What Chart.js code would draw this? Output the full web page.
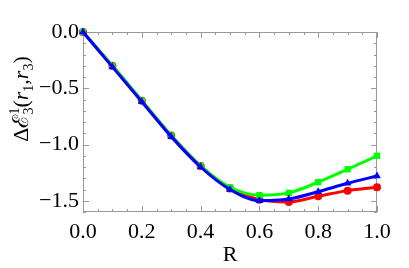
<!DOCTYPE html>
<html>
<head>
<meta charset="utf-8">
<script src="https://cdn.jsdelivr.net/npm/chart.js@4"></script>
<style>
html, body { margin: 0; padding: 0; background: #fff; }
</style>
</head>
<body>
<canvas id="chart" width="409" height="268"></canvas>
<script>
// values
const rValues = [0, 0.1, 0.2, 0.3, 0.4, 0.5, 0.6, 0.7, 0.8, 0.9, 1.0];
const redValues = [0, -0.30, -0.61, -0.92, -1.19, -1.39, -1.49, -1.51, -1.46, -1.41, -1.38];
const greenValues = [0, -0.30, -0.61, -0.92, -1.19, -1.38, -1.45, -1.43, -1.335, -1.22, -1.10];
const blueValues = [0, -0.31, -0.62, -0.93, -1.20, -1.40, -1.50, -1.485, -1.42, -1.345, -1.28];

const xTicks = [0, 0.2, 0.4, 0.6, 0.8, 1.0];
const yTicks = [-1.5, -1.0, -0.5, 0.0];

const serif = '"Liberation Serif", "DejaVu Serif", serif';

function toPoints(ys) {
    return rValues.map((x, i) => ({ x: x, y: ys[i] }));
}

function series(label, ys, color, shape, radius, order) {
    return {
        label: label,
        data: toPoints(ys),
        borderColor: color,
        backgroundColor: color,
        borderWidth: 3,
        pointStyle: shape,
        pointRadius: radius,
        pointBorderWidth: 0,
        cubicInterpolationMode: 'monotone',
        clip: false,
        order: order
    };
}

// Mathematica style frame with inward ticks on all four sides
const framePlugin = {
    id: 'frame',
    beforeDatasetsDraw(chart) {
        const { ctx, chartArea: a, scales } = chart;
        const xs = scales.x, ys = scales.y;
        ctx.save();
        ctx.strokeStyle = '#999';
        ctx.lineWidth = 1;
        ctx.strokeRect(a.left + 0.5, a.top + 0.5, a.right - a.left - 1, a.bottom - a.top - 1);
        ctx.beginPath();
        for (let i = 0; i <= 20; i++) {
            const v = i * 0.05;
            const px = Math.round(xs.getPixelForValue(v)) + 0.5;
            const len = i % 4 === 0 ? 6 : 3;
            ctx.moveTo(px, a.bottom); ctx.lineTo(px, a.bottom - len);
            ctx.moveTo(px, a.top); ctx.lineTo(px, a.top + len);
        }
        for (let i = 0; i <= 16; i++) {
            const v = -i * 0.1;
            const py = Math.round(ys.getPixelForValue(v)) + 0.5;
            const len = i % 5 === 0 ? 6 : 3;
            ctx.moveTo(a.left, py); ctx.lineTo(a.left + len, py);
            ctx.moveTo(a.right, py); ctx.lineTo(a.right - len, py);
        }
        ctx.stroke();
        ctx.restore();
    }
};

// rotated y title with stacked super/subscript
const yTitlePlugin = {
    id: 'yTitle',
    afterDraw(chart) {
        const ctx = chart.ctx;
        const big = '22px ' + serif;
        const bigIt = 'italic 22px ' + serif;
        const small = '14px ' + serif;
        const parts = [
            { t: 'Δℰ', f: big, dy: 0 },
            { t: '1', f: small, dy: -9, stack: true },
            { t: '3', f: small, dy: 5 },
            { t: '(', f: big, dy: 0 },
            { t: 'r', f: bigIt, dy: 0 },
            { t: '1', f: small, dy: 5 },
            { t: ',', f: big, dy: 0 },
            { t: 'r', f: bigIt, dy: 0 },
            { t: '3', f: small, dy: 5 },
            { t: ')', f: big, dy: 0 }
        ];
        ctx.save();
        let total = 0;
        parts.forEach(p => {
            ctx.font = p.f;
            p.w = ctx.measureText(p.t).width;
            if (!p.stack) total += p.w;
        });
        ctx.translate(28, 99);
        ctx.rotate(-Math.PI / 2);
        ctx.fillStyle = '#000';
        ctx.textBaseline = 'alphabetic';
        let x = -total / 2;
        parts.forEach(p => {
            ctx.font = p.f;
            ctx.fillText(p.t, x, p.dy);
            if (!p.stack) x += p.w;
        });
        ctx.restore();
    }
};

new Chart(document.getElementById('chart').getContext('2d'), {
    type: 'line',
    data: {
        datasets: [
            series('red', redValues, '#ff0000', 'circle', 4, 2),
            series('green', greenValues, '#00ff00', 'rect', 4.5, 1),
            series('blue', blueValues, '#0000ff', 'triangle', 4.5, 0)
        ]
    },
    options: {
        responsive: false,
        animation: false,
        layout: { padding: { left: 0, right: 32, top: 32, bottom: 0 } },
        plugins: { legend: { display: false }, tooltip: { enabled: false } },
        scales: {
            x: {
                type: 'linear',
                min: 0,
                max: 1,
                afterBuildTicks: s => { s.ticks = xTicks.map(v => ({ value: v })); },
                afterFit: s => { s.height = 56; },
                grid: { display: false, drawTicks: false },
                border: { display: false },
                ticks: {
                    padding: 7,
                    color: '#000',
                    font: { family: serif, size: 22 },
                    callback: v => v.toFixed(1),
                    maxRotation: 0
                },
                title: {
                    display: true,
                    text: 'R',
                    color: '#000',
                    font: { family: serif, size: 22 },
                    padding: { top: 0, bottom: 0 }
                }
            },
            y: {
                type: 'linear',
                min: -1.6,
                max: 0,
                afterBuildTicks: s => { s.ticks = yTicks.map(v => ({ value: v })); },
                afterFit: s => { s.width = 83; },
                grid: { display: false, drawTicks: false },
                border: { display: false },
                ticks: {
                    padding: 4,
                    color: '#000',
                    font: { family: serif, size: 22 },
                    callback: v => v.toFixed(1).replace('-', '\u2212')
                }
            }
        }
    },
    plugins: [framePlugin, yTitlePlugin]
});
</script>
</body>
</html>
